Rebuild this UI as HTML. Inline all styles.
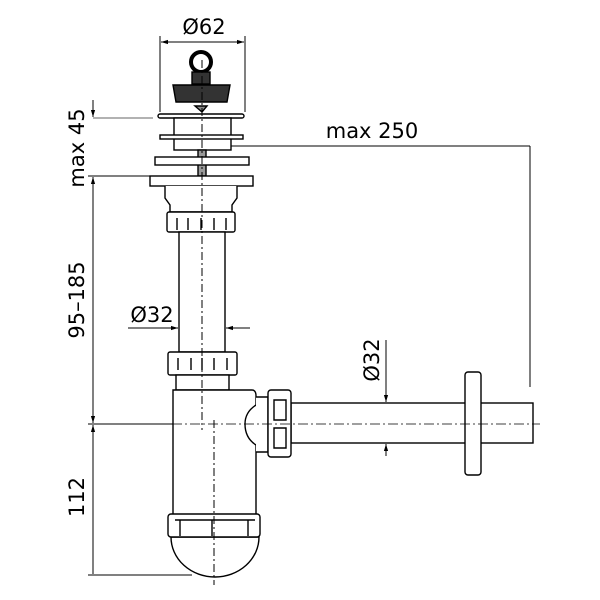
<!DOCTYPE html>
<html><head><style>html,body{margin:0;padding:0;background:#fff}svg{display:block}</style></head><body>
<svg width="600" height="600" viewBox="0 0 600 600" xmlns="http://www.w3.org/2000/svg" font-family="'DejaVu Sans','Liberation Sans',sans-serif">
<defs>
<marker id="a" viewBox="0 0 10 10" refX="10" refY="5" markerWidth="7" markerHeight="7" orient="auto-start-reverse"><path d="M0,2 L10,5 L0,8z" fill="#000"/></marker>
</defs>
<g fill="none" stroke="#000" stroke-width="1">
<line x1="160" y1="36" x2="160" y2="112"/><line x1="245" y1="36" x2="245" y2="112"/>
<line x1="161" y1="42" x2="244" y2="42" marker-start="url(#a)" marker-end="url(#a)"/>
<line x1="93" y1="100" x2="93" y2="117" marker-end="url(#a)"/>
<line x1="93" y1="177" x2="93" y2="423" marker-start="url(#a)" marker-end="url(#a)"/>
<line x1="93" y1="425" x2="93" y2="574" marker-start="url(#a)"/>
<line x1="93" y1="118" x2="153" y2="118" stroke="#666"/>
<line x1="88" y1="176" x2="150" y2="176"/>
<line x1="88" y1="424" x2="195" y2="424"/>
<line x1="88" y1="575" x2="192" y2="575"/>
<line x1="530" y1="146" x2="206" y2="146" marker-end="url(#a)"/>
<line x1="530" y1="146" x2="530" y2="387"/>
<line x1="128" y1="328" x2="178" y2="328" marker-end="url(#a)"/>
<line x1="250" y1="328" x2="226" y2="328" marker-end="url(#a)"/>
<line x1="386" y1="340" x2="386" y2="402" marker-end="url(#a)"/>
<line x1="386" y1="456" x2="386" y2="444" marker-end="url(#a)"/>
</g>
<g fill="#fff" stroke="#000" stroke-width="1.4">
<circle cx="201" cy="62" r="10" fill="none" stroke-width="4"/>
<rect x="192" y="72" width="18" height="12" fill="#333"/>
<path d="M173,85 H230 L227,102 H176z" fill="#333"/>
<path d="M195,106 L207,106 L202,112z" fill="#888"/>
<rect x="158" y="114" width="86" height="4" rx="2"/>
<rect x="174" y="118" width="57" height="32"/>
<rect x="160" y="135" width="83" height="4"/>
<rect x="198" y="150" width="8" height="26" fill="#999"/>
<rect x="155" y="157" width="94" height="8"/>
<rect x="150" y="176" width="103" height="10"/>
<path d="M165,186 V198 L170,205 V212 H232 V205 L237,198 V186"/>
<rect x="167" y="212" width="68" height="20" rx="2"/>
<path d="M177,230 V218 M188,230 V218 M201,230 V218 M214,230 V218 M226,230 V218" fill="none"/>
<rect x="179" y="232" width="46" height="120"/>
<rect x="168" y="352" width="69" height="23" rx="2"/>
<path d="M178,370 V358 M191,370 V358 M202,370 V358 M214,370 V358 M227,370 V358" fill="none"/>
<rect x="176" y="375" width="53" height="15"/>
<rect x="291" y="403" width="242" height="40"/>
<rect x="465" y="372" width="16" height="103" rx="3"/>
<path d="M173,390 H252 Q256,390 256,396 V405 Q245,412 245,424 Q245,438 256,445 V515 H173z"/>
<path d="M256,397 H268 V452 H256" />
<rect x="268" y="390" width="23" height="67" rx="3"/>
<path d="M274,400 H286 V420 H274z M274,428 H286 V448 H274z" fill="none"/>
<path d="M171,537 H259 A44,40 0 0 1 171,537z"/>
<rect x="168" y="514" width="92" height="23" rx="3"/>
<path d="M175,520 H255 M180,520 V536 M212,520 V536 M248,520 V536" fill="none"/>
</g>
<g fill="none" stroke="#000" stroke-width="1">
<line x1="202" y1="60" x2="202" y2="430" stroke-dasharray="8,3,2,3"/>
<line x1="214" y1="420" x2="214" y2="585" stroke-dasharray="8,3,2,3"/>
<line x1="100" y1="424" x2="540" y2="424" stroke-dasharray="10,3,2,3" stroke-width="0.8"/>
</g>
<g font-size="21" fill="#000" text-anchor="middle">
<text x="204" y="34">Ø62</text>
<text x="372" y="138">max 250</text>
<text x="152" y="322">Ø32</text>
<text transform="translate(84,148) rotate(-90)">max 45</text>
<text transform="translate(84,300) rotate(-90)">95–185</text>
<text transform="translate(84,497) rotate(-90)">112</text>
<text transform="translate(379,360) rotate(-90)">Ø32</text>
</g>
</svg>
</body></html>
